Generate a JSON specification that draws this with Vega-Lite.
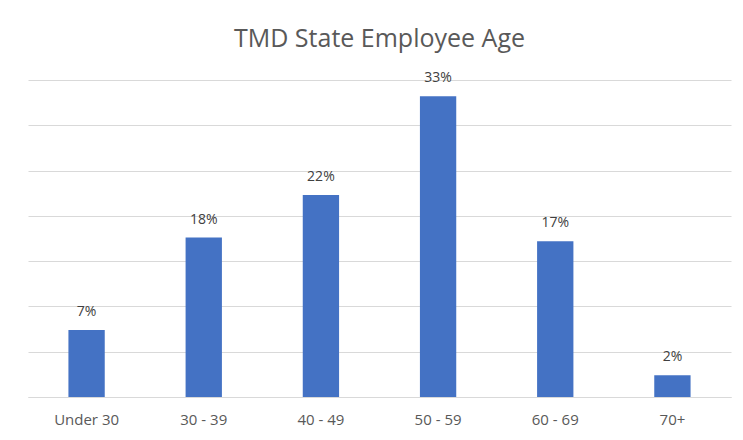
{
  "$schema": "https://vega.github.io/schema/vega-lite/v6.json",
  "autosize": "none",
  "width": 703,
  "height": 317,
  "padding": {"left": 28, "top": 80, "right": 12, "bottom": 43},
  "background": "white",
  "config": {"view": {"stroke": null}},
  "title": {
    "text": "TMD State Employee Age",
    "font": "Open Sans",
    "fontSize": 25,
    "fontWeight": "normal",
    "color": "#595959",
    "anchor": "middle",
    "baseline": "alphabetic",
    "offset": -1
  },
  "data": {
    "values": [
      {"age": "Under 30", "share": 0.074},
      {"age": "30 - 39", "share": 0.176},
      {"age": "40 - 49", "share": 0.223},
      {"age": "50 - 59", "share": 0.332},
      {"age": "60 - 69", "share": 0.172},
      {"age": "70+", "share": 0.024}
    ]
  },
  "encoding": {
    "x": {
      "field": "age",
      "type": "nominal",
      "sort": null,
      "scale": {"paddingInner": 0.69, "paddingOuter": 0.345},
      "axis": {
        "title": null,
        "labelAngle": 0,
        "labelFont": "Open Sans",
        "labelFontSize": 15,
        "labelColor": "#595959",
        "labelPadding": 15,
        "ticks": false,
        "domainColor": "#d9d9d9",
        "domainWidth": 1
      }
    },
    "y": {
      "field": "share",
      "type": "quantitative",
      "scale": {"domain": [0, 0.35], "nice": false},
      "axis": {
        "title": null,
        "labels": false,
        "ticks": false,
        "domain": false,
        "values": [0, 0.05, 0.1, 0.15, 0.2, 0.25, 0.3, 0.35],
        "gridColor": "#d9d9d9",
        "gridWidth": 1
      }
    }
  },
  "layer": [
    {"mark": {"type": "bar", "color": "#4472C4"}},
    {
      "mark": {
        "type": "text",
        "baseline": "alphabetic",
        "dy": -14,
        "font": "Open Sans",
        "fontSize": 14,
        "color": "#404040"
      },
      "encoding": {"text": {"field": "share", "type": "quantitative", "format": ".0%"}}
    }
  ]
}
